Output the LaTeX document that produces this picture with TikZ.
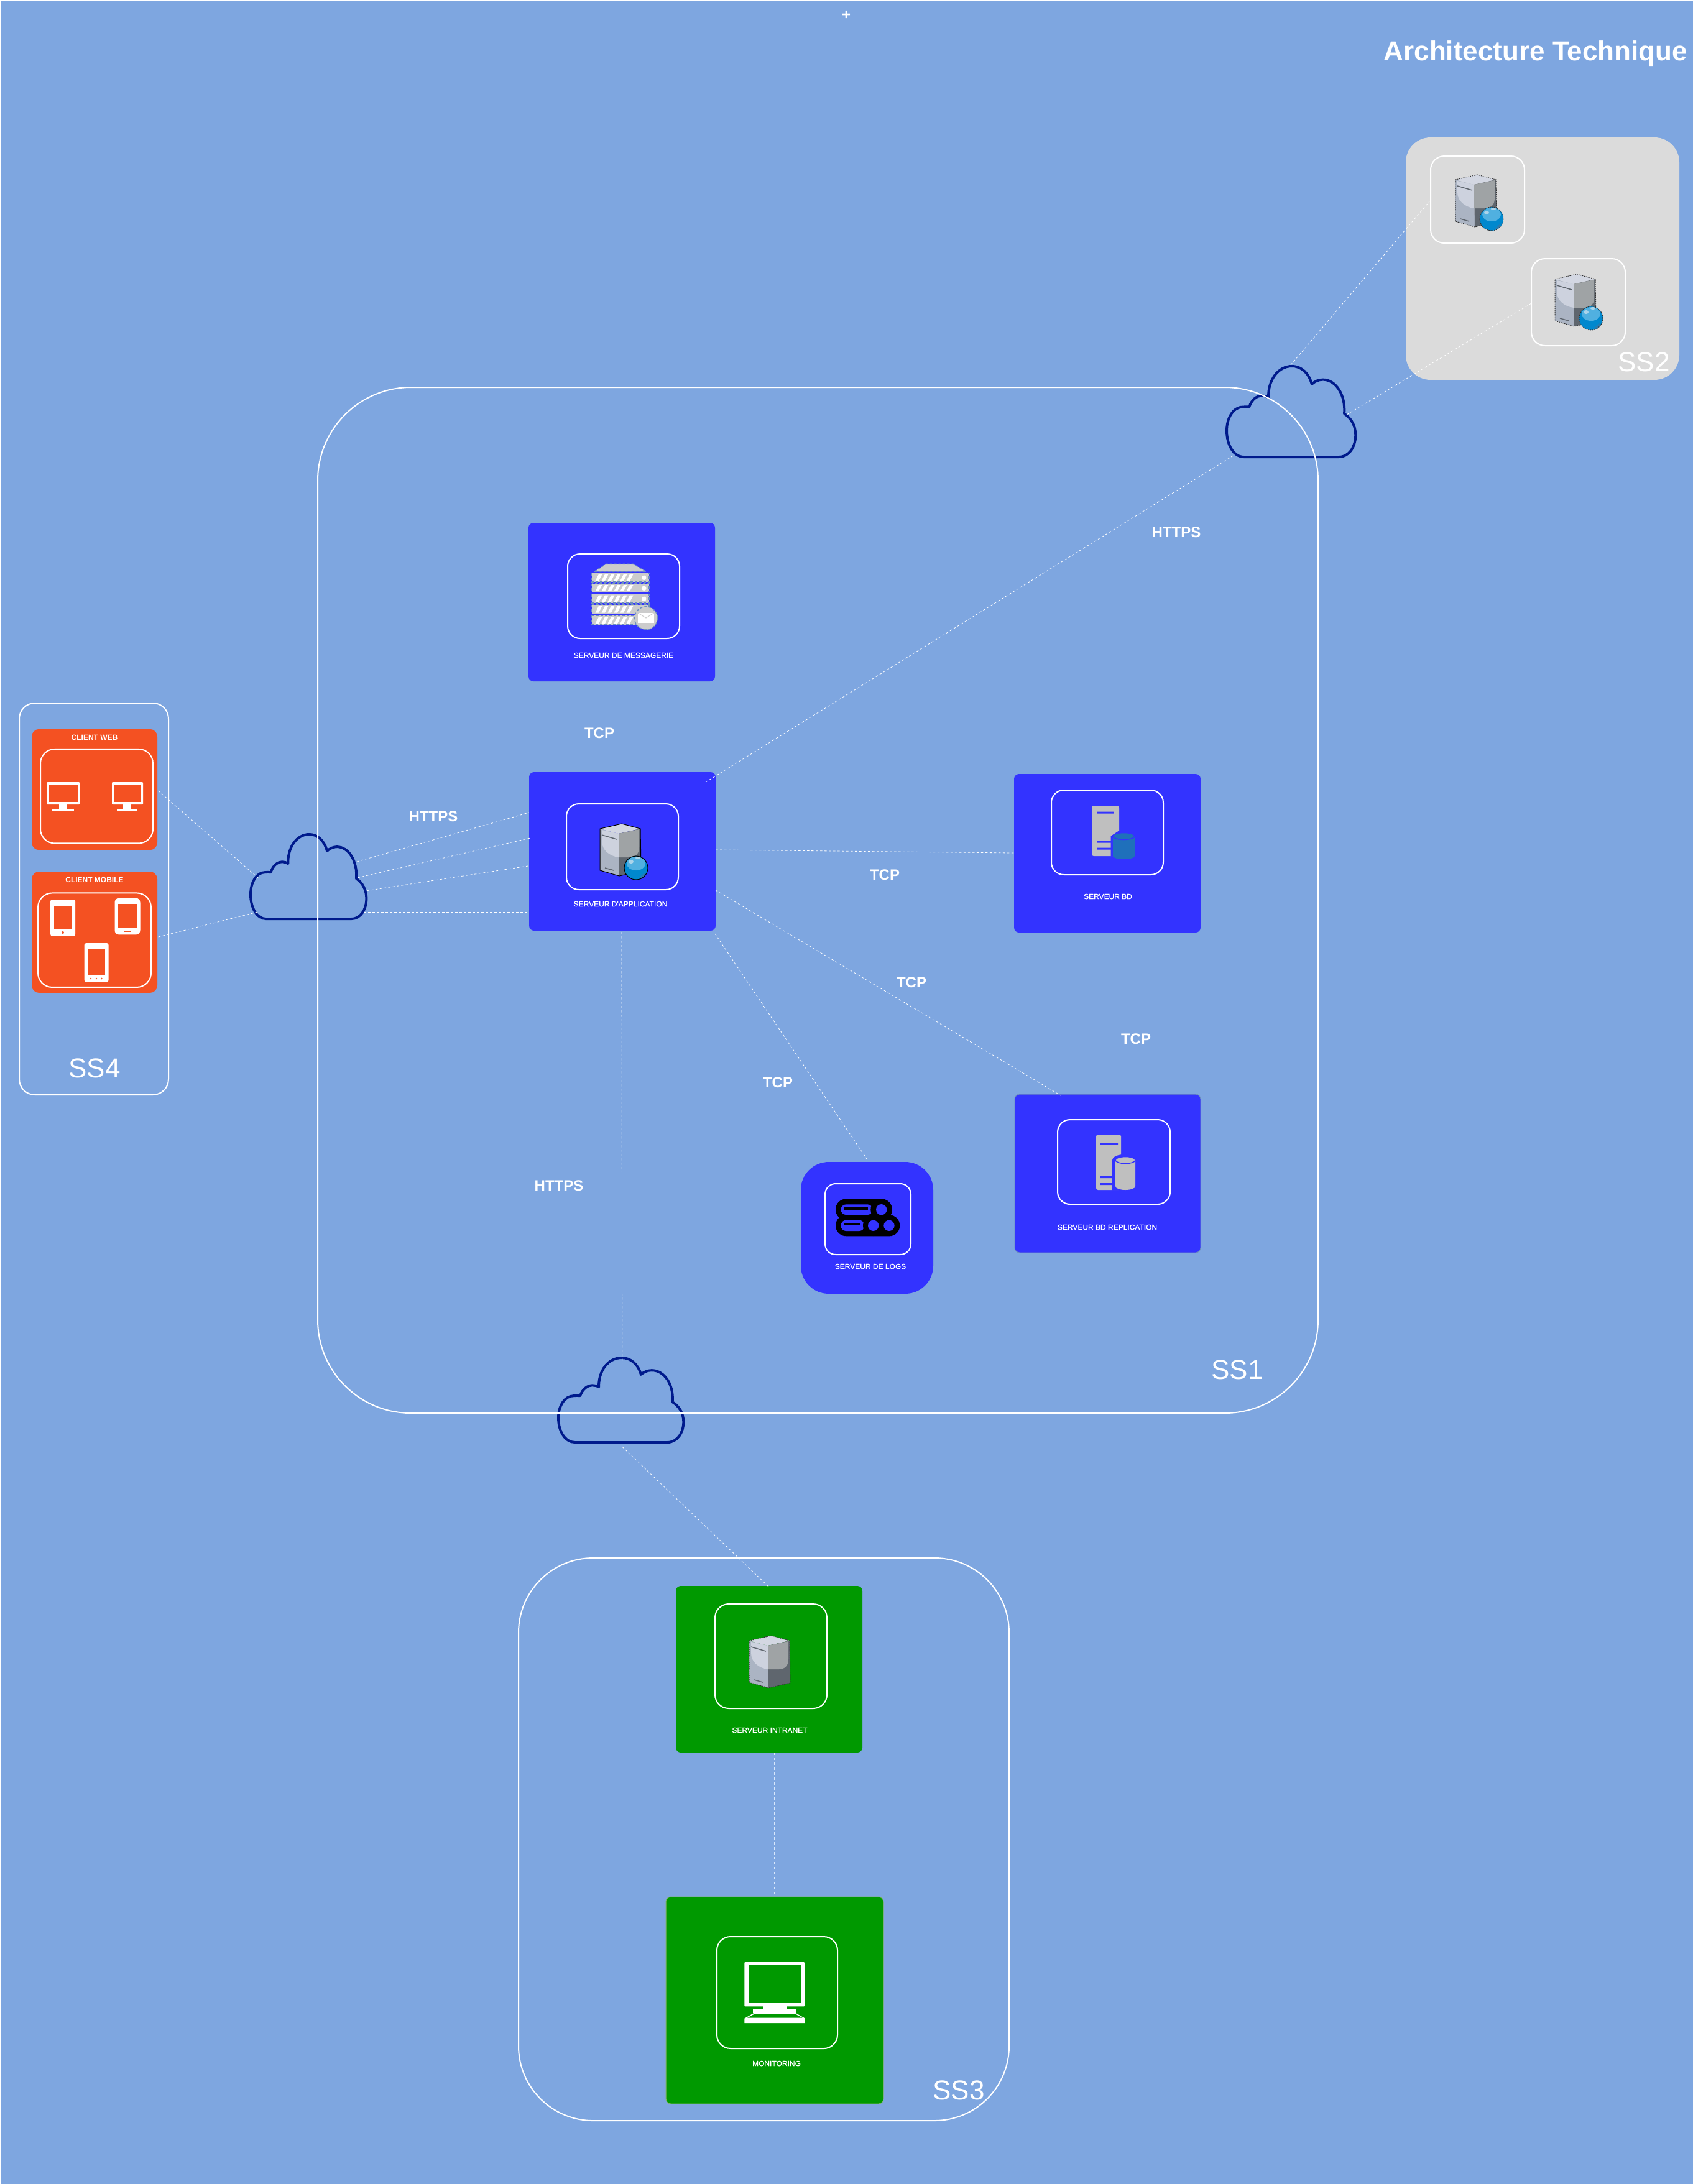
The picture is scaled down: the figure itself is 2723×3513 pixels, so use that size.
\documentclass[tikz,border=0pt]{standalone}
\usepackage{fontspec}
\setmainfont{Liberation Sans}
\newfontfamily\capfont[FakeBold=0.4]{Liberation Sans}
\definecolor{bgblue}{HTML}{7EA6E0}
\definecolor{srvblue}{HTML}{3333FF}
\definecolor{grn}{HTML}{009900}
\definecolor{org}{HTML}{F45122}
\definecolor{cloudc}{HTML}{001A8C}
\definecolor{ssgray}{HTML}{DBDBDB}
\definecolor{iconc}{HTML}{BFBFBF}
\definecolor{racks}{HTML}{CCCCCC}
\definecolor{dashb}{HTML}{6C8EBF}
\definecolor{cylb}{HTML}{1F70BB}
\definecolor{linkc}{HTML}{DAE8FC}
\tikzset{
  card/.style={rounded corners=8pt,inner sep=0pt,outer sep=0pt,draw=none},
  frame/.style={draw=white,line width=2pt,inner sep=0pt,outer sep=0pt,fill=none},
  zone/.style={draw=white,line width=2pt,rounded corners=#1},
  link/.style={draw=white,line width=0.8pt,dash pattern=on 3.5pt off 3.5pt},
  caption/.style={text=white,font=\capfont\fontsize{12}{14}\selectfont,inner sep=0pt},
  bcaption/.style={text=white,font=\fontsize{12}{14}\selectfont\bfseries,inner sep=0pt},
  proto/.style={text=white,font=\fontsize{24}{28}\selectfont\bfseries,inner sep=0pt},
  zonetext/.style={text=white,font=\fontsize{44}{50}\selectfont,inner sep=0pt},
  cloudbox/.style={inner sep=0pt,outer sep=0pt},
  cloudline/.style={draw=cloudc,line width=4pt,line join=round},
  solidedge/.style={draw=black,line width=1pt},
  dotedge/.style={draw=black!80,line width=1pt,dash pattern=on 1.5pt off 1.5pt},
}
% cloud outline: x0,y0,width,height
\newcommand{\cloudpath}[4]{%
  \begin{scope}[shift={(#1,#2)},xscale=#3/605,yscale=#4/405,shift={(-55,-73)}]
    \draw[cloudline] (135,478) -- (580,478) .. controls (628,478) and (658,432) .. (658,380)
      .. controls (658,340) and (638,305) .. (605,285)
      .. controls (612,200) and (565,133) .. (505,133)
      .. controls (485,133) and (468,140) .. (453,153)
      .. controls (440,105) and (405,73) .. (360,73)
      .. controls (295,73) and (248,135) .. (250,213)
      .. controls (240,207) and (230,205) .. (220,205)
      .. controls (195,205) and (172,222) .. (160,255)
      .. controls (150,254) and (140,254) .. (130,255)
      .. controls (85,255) and (55,305) .. (55,360)
      .. controls (55,428) and (90,478) .. (135,478) -- cycle;
  \end{scope}}
% server tower: x,y,edge style
\newcommand{\srvbody}[3]{%
  \begin{scope}[shift={(#1,#2)}]
    \fill[fill={rgb,255:red,171;green,180;blue,195}] (0,8) -- (30,16) -- (31,84) -- (0,75) -- cycle;
    \fill[fill={rgb,255:red,205;green,210;blue,222}] (3,10) -- (30,16) -- (30,54) .. controls (15,52) and (3,42) .. (3,28) -- cycle;
    \fill[fill={rgb,255:red,211;green,215;blue,226}] (0,8) -- (35,0) -- (65,8) -- (30,16) -- cycle;
    \fill[fill={rgb,255:red,95;green,102;blue,110}] (30,16) -- (65,8) -- (66,76) -- (31,84) -- cycle;
    \fill[fill={rgb,255:red,159;green,163;blue,165}] (30,16) -- (63,9) -- (63,38) .. controls (63,50) and (55,54) .. (48,54) -- (30,54) -- cycle;
    \draw[#3] (0,8) -- (35,0) -- (65,8) -- (66,76) -- (31,84) -- (0,75) -- cycle;
    \draw[draw={rgb,255:red,95;green,102;blue,110},line width=1.5pt] (3,18) -- (27,25) (8,71) -- (22,75);
  \end{scope}}
\newcommand{\srvball}[3]{%
  \begin{scope}[shift={(#1,#2)}]
    \fill[fill={rgb,255:red,0;green,136;blue,206}] (58,71) circle (19);
    \fill[fill={rgb,255:red,80;green,176;blue,224}] (58,64) ellipse (15 and 11);
    \fill[fill={rgb,255:red,170;green,212;blue,234}] (50,61) ellipse (4 and 3);
    \fill[fill={rgb,255:red,170;green,212;blue,234}] (61,55) ellipse (4 and 2);
    \fill[fill={rgb,255:red,42;green,122;blue,176}] (66,84) -- (72,79) -- (71,85) -- (63,88) -- cycle;
    \draw[#3] (58,71) circle (19);
  \end{scope}}
% desktop monitor: x,y,w
\newcommand{\deskmon}[3]{%
  \begin{scope}[shift={(#1,#2)},xscale=#3/52]
    \fill[white,rounded corners=1pt] (0,0) rectangle (52,36);
    \fill[org] (3,3.5) rectangle (49,32);
    \fill[white] (19,36) rectangle (32,42.5);
    \fill[white] (8,46) -- (8,42.5) -- (43,42.5) -- (43,46) -- cycle;
  \end{scope}}
\begin{document}
\begin{tikzpicture}[x=1pt,y=-1pt]
\useasboundingbox (0,0) rectangle (2723,3513);
\fill[bgblue] (0,0) rectangle (2723,3513);
\draw[white,line width=1.5pt] (0,3513) -- (0,0) -- (2723,0);

% ---------- clouds (behind the zone frames)
\node[cloudbox,minimum width=187pt,minimum height=136pt] (cloudL) at (496.5,1410) {};
\node[cloudbox,minimum width=208pt,minimum height=146pt] (cloudT) at (2077,662) {};
\node[cloudbox,minimum width=202pt,minimum height=136pt] (cloudB) at (999,2252) {};
\cloudpath{403}{1342}{187}{136}
\cloudpath{1973}{589}{208}{146}
\cloudpath{898}{2184}{202}{136}

% ---------- zones
\fill[ssgray,rounded corners=40pt] (2261,221) rectangle (2701,611);
\draw[zone=150pt] (511,623) rectangle (2120,2273);
\draw[zone=120pt] (834,2506) rectangle (1623,3411);
\draw[zone=25pt] (31,1131) rectangle (271,1761);
\node[zonetext] (ss1) at (1990,2203) {SS1};
\node[zonetext] (ss2) at (2644,582) {SS2};
\node[zonetext] (ss3) at (1542,3362) {SS3};
\node[zonetext] (ss4) at (152,1718) {SS4};

% ---------- title
\node[text=white,font=\fontsize{44}{50}\selectfont\bfseries,inner sep=0pt,anchor=base east] (title) at (2714,97) {Architecture Technique};
\node[text=white,font=\fontsize{24}{26}\selectfont\bfseries,inner sep=0pt] (plus) at (1361,24) {+};

% ---------- cards
\node[card,fill=srvblue,minimum width=300pt,minimum height=255pt] (msg) at (1000,968.5) {};
\node[card,fill=srvblue,minimum width=300pt,minimum height=255pt] (app) at (1001,1369.5) {};
\node[card,fill=srvblue,minimum width=300pt,minimum height=255pt] (bd) at (1781,1372.5) {};
\node[card,fill=srvblue,draw=dashb,line width=1pt,minimum width=299pt,minimum height=255pt] (rep) at (1781.5,1887.5) {};
\node[card,fill=srvblue,rounded corners=45pt,minimum width=213pt,minimum height=212pt] (logs) at (1394.5,1975) {};
\node[card,fill=grn,minimum width=300pt,minimum height=268pt] (intra) at (1237,2685) {};
\node[card,fill=grn,draw={rgb,255:red,130;green,179;blue,102},line width=1pt,minimum width=350pt,minimum height=333pt] (mon) at (1246,3217.5) {};
\node[card,fill=org,rounded corners=12pt,minimum width=202pt,minimum height=194.5pt] (web) at (152,1270) {};
\node[card,fill=org,rounded corners=12pt,minimum width=202pt,minimum height=195pt] (mobile) at (152,1499.5) {};

% ---------- inner frames
\node[frame,rounded corners=20pt,minimum width=180pt,minimum height=136pt] (msgF) at (1003,959) {};
\node[frame,rounded corners=20pt,minimum width=180pt,minimum height=138pt] (appF) at (1001,1362) {};
\node[frame,rounded corners=20pt,minimum width=180pt,minimum height=136pt] (bdF) at (1781,1339) {};
\node[frame,rounded corners=20pt,minimum width=181pt,minimum height=136pt] (repF) at (1791.5,1869) {};
\node[frame,rounded corners=17pt,minimum width=138pt,minimum height=114pt] (logsF) at (1396,1961) {};
\node[frame,rounded corners=22pt,minimum width=180pt,minimum height=168pt] (intraF) at (1240,2664) {};
\node[frame,rounded corners=22pt,minimum width=194pt,minimum height=180pt] (monF) at (1250,3205) {};
\node[frame,rounded corners=23pt,minimum width=181pt,minimum height=151.5pt] (webF) at (155.5,1280.7) {};
\node[frame,rounded corners=23pt,minimum width=182pt,minimum height=151.5pt] (mobF) at (152,1512.2) {};
\node[frame,rounded corners=22pt,minimum width=151pt,minimum height=140pt] (s2a) at (2376.5,321) {};
\node[frame,rounded corners=22pt,minimum width=151pt,minimum height=140pt] (s2b) at (2538.5,486) {};

% ---------- captions
\node[caption] (msgT) at (1003,1054) {SERVEUR DE MESSAGERIE};
\node[caption] (appT) at (998,1454) {SERVEUR D'APPLICATION};
\node[caption] (bdT) at (1782,1442) {SERVEUR BD};
\node[caption] (repT) at (1781,1974) {SERVEUR BD REPLICATION};
\node[caption] (logsT) at (1400,2037) {SERVEUR DE LOGS};
\node[caption] (intraT) at (1238,2783) {SERVEUR INTRANET};
\node[caption] (monT) at (1249,3319) {MONITORING};
\node[bcaption] (webT) at (152,1186.5) {CLIENT WEB};
\node[bcaption] (mobT) at (152,1415.5) {CLIENT MOBILE};

% ---------- protocol labels
\node[proto] (l1) at (964,1179) {TCP};
\node[proto] (l2) at (697,1313) {HTTPS};
\node[proto] (l3) at (1892,856) {HTTPS};
\node[proto] (l4) at (1423,1407) {TCP};
\node[proto] (l5) at (1466,1580) {TCP};
\node[proto] (l6) at (1827,1671) {TCP};
\node[proto] (l7) at (1251,1741) {TCP};
\node[proto] (l8) at (899,1907) {HTTPS};

% ---------- server icons
\srvbody{965}{1325}{solidedge}\srvball{965}{1325}{solidedge}
\srvbody{2341}{281}{dotedge}\srvball{2341}{281}{dotedge}
\srvbody{2501}{441}{dotedge}\srvball{2501}{441}{dotedge}
\srvbody{1205}{2631}{dotedge}

% ---------- mail rack icon
\begin{scope}[msgicon/.style={fill=racks,draw=dashb,line width=1.4pt,dash pattern=on 4pt off 3pt}]
  \path[msgicon] (956,919.3) -- (975,907.3) -- (1018.3,907.3) -- (1039,919.3) -- cycle;
  \foreach \ya/\yb in {921.7/936,939/952.7,955.7/970,972.7/987.7,990.3/1005}{
    \path[msgicon] (951.7,\ya) rectangle (1044,\yb);
    \foreach \i in {0,...,5}{
      \fill[white] ({957.5+10*\i},\yb-2) -- ({963+10*\i},\yb-2) -- ({968.5+10*\i},\ya+2) -- ({963+10*\i},\ya+2) -- cycle;
    }
  }
  \foreach \yc in {929.3,946.3,963.3}{\fill[white] (1035.7,\yc) circle (3.8);}
  \path[msgicon] (1039,994.3) circle (18.5);
  \fill[white] (1026,986) rectangle (1051.7,1002.3);
  \draw[racks,line width=1pt] (1026,986) -- (1039,994) -- (1051.7,986);
\end{scope}

% ---------- DB icons
\fill[iconc,rounded corners=3pt] (1756,1296) -- (1800,1296) -- (1800,1377) -- (1756,1377) -- cycle;
\fill[srvblue] (1764,1305.5) rectangle (1791,1308.5) (1764,1352.5) rectangle (1800,1355.5) (1764,1363.5) rectangle (1800,1366.5);
\fill[srvblue] (1786.5,1377.5) -- (1786.5,1345) -- (1800,1336) -- (1825.5,1338) -- (1825.5,1377.5) -- cycle;
\fill[cylb] (1790,1344) -- (1790,1377) arc[start angle=180,end angle=0,x radius=17.5,y radius=5] -- (1825,1344) -- cycle;
\fill[cylb,draw=srvblue,line width=1.5pt] (1807.5,1345) ellipse (17.5 and 5.5);

\fill[iconc,rounded corners=3pt] (1763,1825) -- (1803,1825) -- (1803,1914) -- (1763,1914) -- cycle;
\fill[srvblue] (1769,1838) rectangle (1798,1841.5) (1769,1892) rectangle (1795,1895) (1769,1903) rectangle (1795,1906);
\fill[srvblue] (1789,1914.5) -- (1789,1866) arc[start angle=180,end angle=360,x radius=19,y radius=9] -- (1827,1914.5) -- cycle;
\fill[iconc] (1794,1866) -- (1794,1908) arc[start angle=180,end angle=0,x radius=16,y radius=6] -- (1826,1866) -- cycle;
\fill[iconc,draw=srvblue,line width=1.5pt] (1810,1866) ellipse (16 and 5.5);

% ---------- logs icon
\begin{scope}[shift={(1270,1850)},x=0.3333pt,y=-0.3333pt]
  \fill[black,rounded corners=17pt] (222,235) rectangle (492,338);
  \fill[black,rounded corners=17pt] (222,313) rectangle (532,415);
  \fill[srvblue,rounded corners=8pt] (248,262) rectangle (400,312);
  \fill[black] (262,273) rectangle (378,287);
  \fill[black] (443,287) circle[radius=52];
  \fill[srvblue] (443,287) circle[radius=26];
  \fill[srvblue,rounded corners=8pt] (248,338) rectangle (360,390);
  \fill[black] (262,351) rectangle (338,364);
  \fill[black] (404,364) circle[radius=50];
  \fill[srvblue] (404,364) circle[radius=26];
  \fill[srvblue] (480,364) circle[radius=26];
\end{scope}

% ---------- monitoring icon
\begin{scope}[shift={(1060,3040)},x=0.3333pt,y=-0.3333pt]
  \fill[white,rounded corners=1pt] (412,348) rectangle (702,562);
  \fill[grn] (432,362) rectangle (683,547);
  \fill[white] (500,562) rectangle (615,575);
  \fill[white] (452,575) rectangle (664,594);
  \fill[white] (457,594) -- (412,620) -- (412,642) -- (705,642) -- (705,620) -- (660,594) -- cycle;
  \fill[grn] (462,598) -- (426,617) -- (692,617) -- (656,598) -- cycle;
\end{scope}

% ---------- client icons
\deskmon{75.5}{1258}{52.5}
\deskmon{180}{1258}{50}

\fill[white,rounded corners=3pt] (81,1447) rectangle (121,1505.5);
\fill[org] (87,1457) rectangle (115,1494);
\fill[org] (101,1500) circle (2);
\fill[white,rounded corners=7pt] (184.5,1444.5) rectangle (225.5,1503.4);
\fill[org] (189,1454) rectangle (221,1493);
\fill[org] (199,1497.5) rectangle (211,1498.5);
\fill[white,rounded corners=3pt] (135.6,1517) rectangle (174.6,1579.6);
\fill[org] (141.7,1527) rectangle (169,1569);
\foreach \dx in {146,155,163.5}{\fill[org] (\dx,1574) circle (1.3);}

% ---------- connectors
\draw[link] ([shift={(102.6,2)}]web.center) -- ([shift={(-81.5,2)}]cloudL.center);
\draw[link] ([shift={(102.6,7.5)}]mobile.center) -- ([shift={(-82.5,57)}]cloudL.center);
\draw[link] ([shift={(77.5,-24)}]cloudL.center) -- ([shift={(-150,-62.5)}]app.center);
\draw[link] ([shift={(79,1.7)}]cloudL.center) -- ([shift={(-148,-21.5)}]app.center);
\draw[link] ([shift={(93.5,22.7)}]cloudL.center) -- ([shift={(-152,23.5)}]app.center);
\draw[link] ([shift={(88.5,57)}]cloudL.center) -- ([shift={(-150,97.5)}]app.center);
\draw[link] ([shift={(0,128.5)}]msg.center) -- ([shift={(-1,-127.5)}]app.center);
\draw[link] ([shift={(134,-111.5)}]app.center) -- ([shift={(-92,70)}]cloudT.center);
\draw[link] ([shift={(-1,-75)}]cloudT.center) -- ([shift={(-77.5,3)}]s2a.center);
\draw[link] ([shift={(89,5)}]cloudT.center) -- ([shift={(-75.5,2)}]s2b.center);
\draw[link] ([shift={(150,-2.5)}]app.center) -- ([shift={(-150,-0.5)}]bd.center);
\draw[link] ([shift={(150,62.5)}]app.center) -- ([shift={(-75.5,-125.5)}]rep.center);
\draw[link] ([shift={(149,132.5)}]app.center) -- ([shift={(1.5,-108)}]logs.center);
\draw[link] ([shift={(-1,129.5)}]app.center) -- ([shift={(1.7,-59)}]cloudB.center);
\draw[link] ([shift={(1.7,75)}]cloudB.center) -- ([shift={(-1,-133)}]intra.center);
\draw[link] ([shift={(-1,130.5)}]bd.center) -- ([shift={(-1.5,-125.5)}]rep.center);
\draw[link,draw=linkc,line width=1.6pt,dash pattern=on 4pt off 4pt] ([shift={(9,134)}]intra.center) -- ([shift={(0,-169.5)}]mon.center);
\end{tikzpicture}
\end{document}
